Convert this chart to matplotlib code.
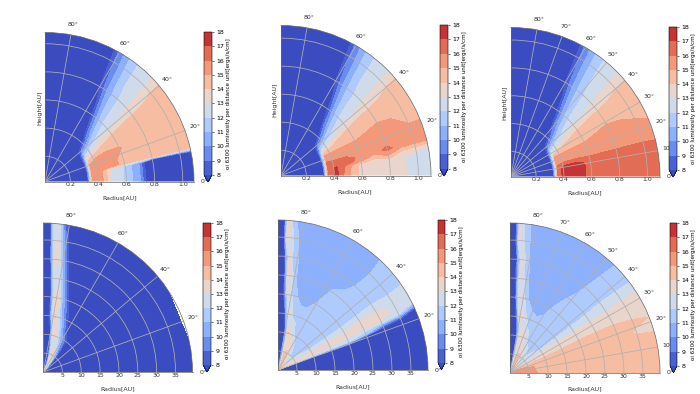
import matplotlib
matplotlib.use('Agg')
import matplotlib.pyplot as plt
import numpy as np

W, H = 700, 394
levels = list(range(8, 19))
cb_label = 'oi 6300 luminosity per distance unit[ergs/s/cm]'

# inner disc panels: rows are angle, columns are radius
r_inner = [0.02, 0.28, 0.32, 0.36, 0.42, 0.5, 0.6, 0.7, 0.8, 0.9, 1.0, 1.15]
# upper rows look the same in the three top panels
t_upper = [35, 40, 45, 50, 55, 60, 65, 70, 90]
z_upper = [
    [5, 5, 7, 11.2, 12.5, 13.4, 14, 14.5, 14.5, 14.5, 14.5, 14.5],
    [5, 5, 7, 9.2, 11, 12.2, 12.8, 13, 13.4, 13.7, 14, 14.2],
    [5, 5, 6, 7, 9, 11, 12, 12.4, 12.5, 12.6, 12.7, 12.8],
    [5, 5, 5, 5, 6.5, 9, 10.6, 11.4, 11.7, 12, 12.2, 12.4],
    [5, 5, 5, 5, 5, 6, 8, 9.5, 10.3, 10.7, 10.9, 11.3],
    [5, 5, 5, 5, 5, 5, 5, 6, 8, 8.6, 9, 9.5],
    [5, 5, 5, 5, 5, 5, 5, 5, 5, 5.5, 6, 6.5],
    [5, 5, 5, 5, 5, 5, 5, 5, 5, 5, 5, 5],
    [5, 5, 5, 5, 5, 5, 5, 5, 5, 5, 5, 5],
]

t_a = [0, 11, 13, 18, 24, 30]
z_a = [
    [5, 5, 7, 15.5, 15.5, 12.8, 11.8, 10, 5, 5, 5, 5],
    [5, 5, 7, 15.5, 15.5, 12.9, 11.9, 10, 5, 5, 5, 6],
    [5, 5, 7, 15.5, 15.5, 15.5, 14.6, 14.5, 14.5, 14.5, 14.5, 14.5],
    [5, 5, 7, 15.5, 15.5, 15.5, 14.7, 14.5, 14.5, 14.5, 14.5, 14.5],
    [5, 5, 7, 14.3, 15.2, 15.3, 15.1, 14.5, 14.5, 14.5, 14.5, 14.5],
    [5, 5, 7, 13, 13.8, 14.5, 14.5, 14.5, 14.5, 14.5, 14.5, 14.5],
]

t_b = [0, 8, 11, 14, 18, 24, 30]
z_b = [
    [5, 5, 7, 16.5, 17.2, 15.2, 13.5, 13.5, 13.5, 13.1, 12.3, 12],
    [5, 5, 7, 16.5, 17.2, 15.5, 13.6, 13.5, 13.5, 13.1, 12.6, 12.2],
    [5, 5, 7, 16.5, 16.5, 16.5, 15.5, 14.2, 15.2, 13.6, 13.2, 12.8],
    [5, 5, 7, 16.5, 16.5, 16.5, 15.7, 15.5, 16.3, 15.5, 15.3, 15.2],
    [5, 5, 7, 15.6, 15.5, 15.5, 15.5, 15.5, 15.5, 15.5, 15.5, 15.5],
    [5, 5, 7, 15, 15.1, 15.1, 15.1, 15.3, 15.4, 15.4, 14.8, 14.7],
    [5, 5, 7, 13, 13.8, 14.5, 14.5, 14.7, 14.9, 14.7, 14.5, 14.5],
]

t_c = [0, 8, 11, 14, 18, 24, 30]
z_c = [
    [5, 5, 7, 16.5, 17.6, 17.6, 16.5, 16.5, 16.5, 16.5, 16.5, 16.5],
    [5, 5, 7, 16.5, 17.6, 17.6, 16.6, 16.5, 16.5, 16.5, 16.5, 16.5],
    [5, 5, 7, 16.4, 17.2, 17.4, 16.6, 16.5, 16.5, 16.5, 16.5, 16.5],
    [5, 5, 7, 15.9, 16.2, 16.3, 16.1, 16.1, 16.1, 16.1, 16.1, 16],
    [5, 5, 7, 15.5, 15.5, 15.5, 15.5, 15.5, 15.5, 15.5, 15.5, 15.5],
    [5, 5, 7, 15, 15.1, 15.1, 15.1, 15.3, 15.4, 15.4, 15.1, 14.7],
    [5, 5, 7, 13, 13.8, 14.5, 14.5, 14.7, 14.9, 14.7, 14.5, 14.5],
]

# outer disc panels: columns listed by radius, each going up in angle
r_d = [0, 2.5, 5, 10, 15, 20, 30, 42]
t_d = [0, 45, 50, 55, 60, 65, 70, 75, 78, 80, 82, 84, 86, 88, 90]
cols_d = [
    [5, 6, 9, 12, 14, 12, 9, 6, 5, 5, 5, 5, 5, 5, 5],
    [5, 6, 9, 12, 14, 12, 9, 6, 5, 5, 5, 5, 5, 5, 5],
    [5, 6.5, 8.5, 10.5, 12.5, 14.3, 12, 8.5, 5, 5, 5, 5, 5, 5, 5],
    [5, 5, 6, 8.5, 9.8, 11.2, 13.2, 13.7, 11, 8, 5, 5, 5, 5, 5],
    [5, 5, 5, 5, 6, 8.2, 10.5, 12.8, 14.2, 13, 11, 8, 5, 5, 5],
    [5, 5, 5, 5, 5, 5.5, 7.5, 10.5, 12.8, 14.1, 13, 9.5, 6, 5, 5],
    [5, 5, 5, 5, 5, 5, 5, 6, 8.5, 10.5, 13, 14, 9.5, 5, 5],
    [5, 5, 5, 5, 5, 5, 5, 5, 5, 6.8, 9, 12, 14, 6, 5],
]

r_e = [0, 2.5, 5, 10, 15, 20, 25, 30, 35, 42]
t_e = [0, 18, 20, 22, 25, 28, 31, 35, 40, 45, 50, 55, 60, 65, 70, 75, 78, 80, 82, 84, 86, 88, 90]
cols_e = [
    [5, 5, 5, 13, 14, 14, 13.5, 13, 13, 13, 13, 13.5, 14.5, 14.5, 13, 10, 8, 6, 5, 5, 5, 5, 5],
    [5, 5, 5, 13, 14, 14, 13.5, 13, 13, 13, 13, 13.5, 14.5, 14.5, 13, 10, 8, 6, 5, 5, 5, 5, 5],
    [5, 5, 7, 12.5, 13.2, 13.2, 12.5, 12.2, 12, 11.8, 12, 12.5, 13.5, 14.3, 14, 11.5, 9, 7, 5, 5, 5, 5, 5],
    [5, 5, 8, 12.5, 13.3, 13.3, 12.3, 11.8, 11.5, 11.4, 11.3, 11.3, 11.5, 12, 13.2, 14.1, 10.5, 8.2, 5, 5, 5, 5, 5],
    [5, 5, 9, 12.5, 13.3, 13.4, 12.4, 11.8, 11.5, 11.4, 11.3, 11.2, 11.2, 11.3, 11.4, 11.7, 13.6, 13.1, 10.5, 7, 5, 5, 5],
    [5, 5, 9, 12.3, 13.1, 13.5, 12.6, 11.8, 11.4, 11.3, 11.2, 11.1, 11.05, 10.8, 10.7, 11, 11.5, 12.2, 13.5, 11, 7.5, 5, 5],
    [5, 5, 5, 11, 12.8, 13.8, 12.9, 11.9, 11.4, 11.3, 11.2, 11.1, 10.7, 10.5, 10.5, 10.5, 10.8, 11.4, 12.8, 13.4, 8.5, 5, 5],
    [5, 5, 5, 8, 12.9, 14, 13, 12, 11.5, 11.2, 10.8, 10.6, 10.5, 10.5, 10.5, 10.5, 10.6, 11.1, 11.5, 13.3, 10, 5, 5],
    [5, 5, 5, 7, 12.5, 12.7, 12.4, 11.9, 11.3, 11.1, 10.7, 10.5, 10.5, 10.5, 10.5, 10.5, 10.5, 10.7, 11.2, 12.5, 13.8, 5, 5],
    [5, 5, 5, 5, 8, 12.3, 12.2, 12, 11.5, 11.2, 10.8, 10.5, 10.5, 10.5, 10.5, 10.5, 10.5, 10.5, 10.7, 11.2, 13.5, 7, 5],
]

r_f = [0, 2.5, 5, 10, 15, 20, 25, 30, 35, 42]
t_f = [0, 10, 14, 18, 22, 26, 30, 34, 38, 42, 46, 50, 55, 60, 65, 70, 75, 78, 80, 82, 84, 86, 88, 90]
cols_f = [
    [15.5, 15.5, 15.5, 15.3, 15, 14, 14, 13.5, 13.2, 13, 13, 13, 13.5, 14.3, 14.5, 13.5, 11, 9, 7, 5, 5, 5, 5, 5],
    [15.5, 15.5, 15.5, 15.3, 15, 14, 14, 13.5, 13.2, 13, 13, 13, 13.5, 14.3, 14.5, 13.5, 11, 9, 7, 5, 5, 5, 5, 5],
    [15.3, 15.2, 15.2, 15, 14.6, 13.7, 13.2, 12.9, 12.4, 12.2, 12.1, 12.2, 12.7, 13.5, 14.3, 14, 12, 9.5, 7.5, 5, 5, 5, 5, 5],
    [14.6, 14.6, 14.6, 14.5, 14.3, 13.9, 13.4, 12.9, 12, 11.9, 11.7, 11.6, 11.5, 11.7, 12.3, 13.4, 13.7, 11, 8.5, 6, 5, 5, 5, 5],
    [14.6, 14.6, 14.6, 14.6, 14.6, 13.8, 13.4, 12.9, 11.9, 11.5, 11.4, 11.3, 11.2, 11.1, 11.2, 11.5, 12.4, 13.5, 13.5, 11, 8, 5, 5, 5],
    [14.6, 14.6, 14.6, 14.6, 14.6, 13.9, 13.4, 12.8, 11.9, 11.5, 11.3, 11.2, 11.1, 10.9, 10.5, 10.4, 10.8, 11.7, 12.5, 13.5, 12, 8, 5, 5],
    [14.6, 14.6, 14.6, 14.6, 14.6, 13.9, 13.4, 12.8, 11.9, 11.5, 11.3, 11.1, 10.9, 10.9, 10.4, 10.4, 10.4, 10.8, 11.4, 12.5, 13.3, 9.5, 5, 5],
    [14.6, 14.6, 14.6, 14.6, 14.6, 13.8, 13.3, 12.8, 12, 11.5, 11.2, 10.9, 10.5, 10.4, 10.4, 10.4, 10.4, 10.5, 11, 11.7, 13.3, 10, 5, 5],
    [14.6, 14.6, 14.6, 13.8, 14.3, 13.6, 13.3, 12.9, 11.9, 11.5, 11.1, 10.7, 10.4, 10.4, 10.4, 10.4, 10.4, 10.4, 10.6, 11.2, 12.2, 13.4, 6, 5],
    [14.6, 14.6, 14.2, 13.7, 13.8, 13.5, 13.3, 12.9, 11.7, 11.3, 10.9, 10.5, 10.4, 10.4, 10.4, 10.4, 10.4, 10.4, 10.5, 10.9, 11.5, 13.4, 7, 5],
]


def panel(box, cbox, thetas, radii, z, rlim, rticks, tgrid, xlab, ylab=None):
    x0, y0, x1, y1 = box
    ax = fig.add_axes([x0 / W, 1 - y1 / H, (x1 - x0) / W, (y1 - y0) / H], projection='polar')
    tt, rr = np.meshgrid(np.radians(thetas), radii, indexing='ij')
    cs = ax.contourf(tt, rr, np.array(z), levels=levels, cmap='coolwarm', extend='min')
    ax.set_thetamin(0)
    ax.set_thetamax(90)
    ax.set_rlim(*rlim)
    ax.set_rticks(rticks)
    ax.set_thetagrids(tgrid)
    ax.grid(color='#b0b0b0', lw=0.55)
    ax.tick_params(labelsize=4.5, pad=0.5, colors='#333333', length=0)
    for s in ax.spines.values():
        s.set_linewidth(0.5)
        s.set_color('#666666')

    cx0, cy0, cx1, cy1 = cbox
    cax = fig.add_axes([cx0 / W, 1 - cy1 / H, (cx1 - cx0) / W, (cy1 - cy0) / H])
    cb = fig.colorbar(cs, cax=cax, ticks=levels)
    cb.ax.tick_params(labelsize=4.5, length=1.5, width=0.4, pad=1.5)
    cb.outline.set_linewidth(0.4)
    cb.set_label(cb_label, fontsize=4, labelpad=1.5)

    fig.text(xlab[0] / W, 1 - xlab[1] / H, 'Radius[AU]', fontsize=4.5, ha='center', va='center', color='#333333')
    if ylab:
        fig.text(ylab[0] / W, 1 - ylab[1] / H, 'Height[AU]', fontsize=4.5, rotation=90, ha='center', va='center', color='#333333')


fig = plt.figure(figsize=(7, 3.94), dpi=100)

ticks_in = [0.2, 0.4, 0.6, 0.8, 1.0]
ticks_out = [5, 10, 15, 20, 25, 30, 35]
g20 = [0, 20, 40, 60, 80]
g10 = [0, 10, 20, 30, 40, 50, 60, 70, 80]

panel((45, 32, 194, 182), (204, 32, 212, 182), t_a + t_upper, r_inner, z_a + z_upper,
      (0.02, 1.08), ticks_in, g20, (120, 198), (40, 108))
panel((281, 25, 431, 176), (440, 25, 448, 176), t_b + t_upper, r_inner, z_b + z_upper,
      (0.02, 1.09), ticks_in, g20, (355, 192), (275, 100))
panel((511, 27, 660, 177), (669, 27, 677, 177), t_c + t_upper, r_inner, z_c + z_upper,
      (0.02, 1.09), ticks_in, g10, (585, 193), (505, 103))
panel((43, 223, 193, 372), (203, 223, 211, 372), t_d, r_d, np.array(cols_d).T,
      (0, 39.5), ticks_out, g20, (118, 389))
panel((278, 220, 428, 370), (438, 220, 445, 370), t_e, r_e, np.array(cols_e).T,
      (0, 39.5), ticks_out, g20, (353, 387))
panel((510, 223, 660, 373), (670, 223, 677, 373), t_f, r_f, np.array(cols_f).T,
      (0, 39.5), ticks_out, g10, (585, 389))

fig.savefig('out.png', dpi=100)
